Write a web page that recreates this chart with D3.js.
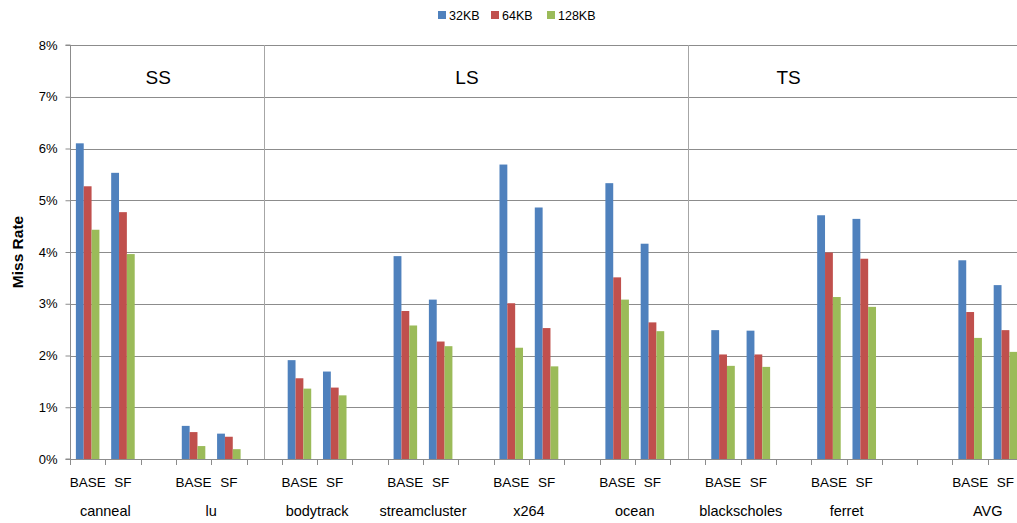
<!DOCTYPE html>
<html>
<head>
<meta charset="utf-8">
<script src="https://cdn.jsdelivr.net/npm/d3@7"></script>
<style>
  html, body { margin: 0; padding: 0; background: #fff; }
  svg { display: block; font-family: "Liberation Sans", Arial, sans-serif; }
</style>
</head>
<body>
<svg id="chart" width="1017" height="523"></svg>
<script>
// ---- data ----
const series = ["32KB", "64KB", "128KB"];
const colors = ["#4F81BD", "#C0504D", "#9BBB59"];
// slot layout along the x axis (gaps are empty slots)
const slots = [
  "canneal|BASE", "canneal|SF", "gap1",
  "lu|BASE", "lu|SF", "gap2",
  "bodytrack|BASE", "bodytrack|SF", "gap3",
  "streamcluster|BASE", "streamcluster|SF", "gap4",
  "x264|BASE", "x264|SF", "gap5",
  "ocean|BASE", "ocean|SF", "gap6",
  "blackscholes|BASE", "blackscholes|SF", "gap7",
  "ferret|BASE", "ferret|SF", "gap8", "gap9",
  "AVG|BASE", "AVG|SF"
];
const benchmarks = ["canneal", "lu", "bodytrack", "streamcluster", "x264", "ocean", "blackscholes", "ferret", "AVG"];
const configs = ["BASE", "SF"];
// values in %, order: benchmark x config
const values32  = [6.10, 5.53, 0.64, 0.49, 1.91, 1.69, 3.92, 3.08, 5.69, 4.86, 5.33, 4.16, 2.49, 2.48, 4.71, 4.64, 3.84, 3.36];
const values64  = [5.27, 4.77, 0.52, 0.43, 1.56, 1.38, 2.86, 2.27, 3.01, 2.53, 3.51, 2.64, 2.02, 2.02, 3.99, 3.87, 2.84, 2.49];
const values128 = [4.43, 3.96, 0.25, 0.19, 1.36, 1.23, 2.58, 2.18, 2.15, 1.79, 3.08, 2.47, 1.80, 1.78, 3.13, 2.94, 2.34, 2.07];
const yTicks = [0, 1, 2, 3, 4, 5, 6, 7, 8];
const sections = ["SS", "LS", "TS"];
const sectionLabelSlots = ["gap1", "gap4", "gap7"];
const sectionDividerSlots = ["gap2", "gap6"];

// ---- layout ----
const svg = d3.select("#chart");
const plotLeft = 70, plotTop = 45, plotBottom = 459;
const step = 35.3;
const x = d3.scaleBand().domain(slots).range([plotLeft, plotLeft + step * slots.length]).padding(0);
const y = d3.scaleLinear().domain([0, 8]).range([plotBottom, plotTop]);
const groupW = x.bandwidth() / 1.5;
const xs = d3.scaleBand().domain(series).range([0, groupW]).padding(0);
const gridColor = "#8c8c8c";

// gridlines
svg.append("g").selectAll("line").data(yTicks.filter(t => t > 0)).join("line")
  .attr("x1", plotLeft).attr("x2", 1017)
  .attr("y1", d => Math.round(y(d)) + 0.5).attr("y2", d => Math.round(y(d)) + 0.5)
  .attr("stroke", gridColor).attr("stroke-width", 1);

// section dividers
svg.append("g").selectAll("line").data(sectionDividerSlots).join("line")
  .attr("x1", d => Math.round(x(d) + x.bandwidth() / 2) + 0.5)
  .attr("x2", d => Math.round(x(d) + x.bandwidth() / 2) + 0.5)
  .attr("y1", plotTop).attr("y2", plotBottom)
  .attr("stroke", "#a6a6a6").attr("stroke-width", 1);

// bars
const barData = [];
benchmarks.forEach((b, bi) => {
  configs.forEach((c, ci) => {
    const idx = bi * 2 + ci;
    const vals = [values32[idx], values64[idx], values128[idx]];
    series.forEach((s, si) => barData.push({ slot: b + "|" + c, s, si, v: vals[si] }));
  });
});
svg.append("g").selectAll("rect").data(barData).join("rect")
  .attr("x", d => x(d.slot) + (x.bandwidth() - groupW) / 2 + xs(d.s))
  .attr("width", xs.bandwidth())
  .attr("y", d => y(d.v))
  .attr("height", d => y(0) - y(d.v))
  .attr("fill", d => colors[d.si]);

// y axis
const yAxis = d3.axisLeft(y).tickValues(yTicks).tickFormat(d => d + "%").tickSize(5).tickPadding(8);
const yg = svg.append("g").attr("transform", `translate(${plotLeft + 0.5},0)`).call(yAxis);
yg.select(".domain").attr("stroke", gridColor).attr("d", `M-5,${plotTop}H0V${plotBottom}H-5`);
yg.selectAll(".tick line").attr("stroke", gridColor);
yg.selectAll(".tick text").attr("font-size", 13).attr("fill", "#000").attr("font-family", "Liberation Sans, Arial, sans-serif");

// x axis: ticks at slot boundaries
const xg = svg.append("g");
xg.append("line").attr("x1", plotLeft).attr("x2", 1017)
  .attr("y1", plotBottom + 0.5).attr("y2", plotBottom + 0.5).attr("stroke", gridColor);
xg.selectAll("line.tk").data(slots).join("line").attr("class", "tk")
  .attr("x1", d => Math.round(x(d)) + 0.5).attr("x2", d => Math.round(x(d)) + 0.5)
  .attr("y1", plotBottom).attr("y2", plotBottom + 6).attr("stroke", gridColor);

// config labels
const cfgSlots = slots.filter(s => s.includes("|"));
xg.selectAll("text.cfg").data(cfgSlots).join("text").attr("class", "cfg")
  .attr("x", d => x(d) + x.bandwidth() / 2)
  .attr("y", 487)
  .attr("text-anchor", "middle")
  .attr("font-size", 13.5)
  .text(d => d.split("|")[1]);

// benchmark labels
xg.selectAll("text.bm").data(benchmarks).join("text").attr("class", "bm")
  .attr("x", d => x(d + "|SF"))
  .attr("y", 516)
  .attr("text-anchor", "middle")
  .attr("font-size", 14.5)
  .text(d => d);

// section labels
const secOffsets = [0, -9, -5];
svg.append("g").selectAll("text").data(sections).join("text")
  .attr("x", (d, i) => x(sectionLabelSlots[i]) + x.bandwidth() / 2 + secOffsets[i])
  .attr("y", 84)
  .attr("text-anchor", "middle")
  .attr("font-size", 19)
  .text(d => d);

// y title
svg.append("text")
  .attr("transform", `translate(23,${(plotTop + plotBottom) / 2}) rotate(-90)`)
  .attr("text-anchor", "middle")
  .attr("font-size", 15.5)
  .attr("font-weight", "bold")
  .text("Miss Rate");

// legend
const legendX = [438, 491, 547];
const lg = svg.append("g").selectAll("g").data(series).join("g")
  .attr("transform", (d, i) => `translate(${legendX[i]},11)`);
lg.append("rect").attr("width", 8).attr("height", 8).attr("fill", (d, i) => colors[i]);
lg.append("text").attr("x", 11).attr("y", 8.5).attr("font-size", 12.5).text(d => d);
</script>
</body>
</html>
